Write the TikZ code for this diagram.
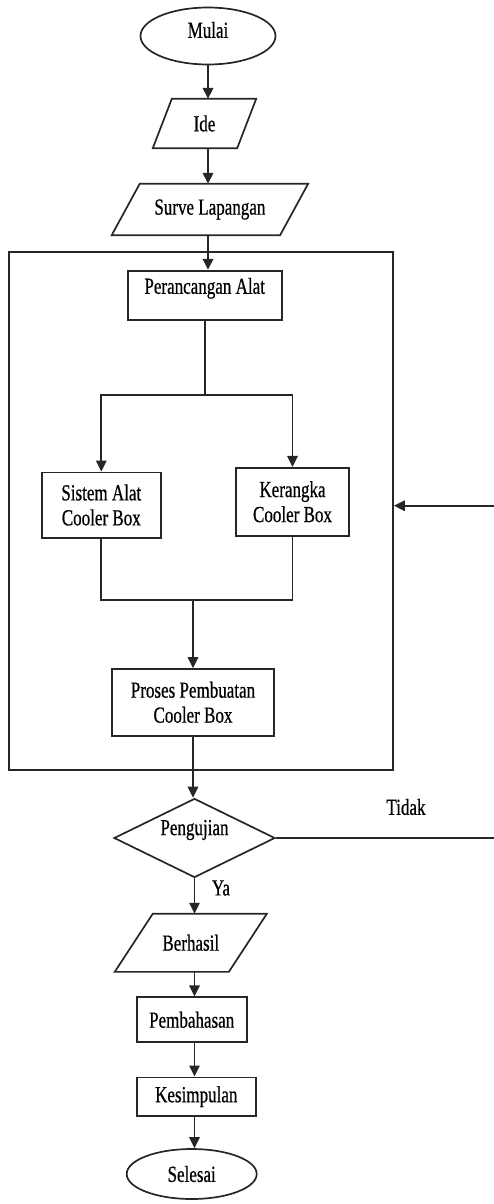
\documentclass[tikz,border=0pt]{standalone}
\usepackage{fontspec}
\setmainfont{Liberation Serif}[FakeStretch=0.74,FakeBold=0.6]
\usetikzlibrary{shapes.geometric,arrows.meta}
\begin{document}
\begin{tikzpicture}[x=1pt,y=-1pt,
  every node/.style={font=\fontsize{23}{25}\selectfont, inner sep=0pt, text=black},
  shp/.style={draw=black!85, line width=1.7pt},
  boxnode/.style={shp, rectangle, align=center},
  term/.style={shp, ellipse},
  iobox/.style={rectangle, align=center},
  arr/.style={draw=black!85, line width=1.7pt, -{Triangle[length=11pt,width=10.5pt]}},
  ln/.style={draw=black!85, line width=1.7pt}]
\useasboundingbox (0,0) rectangle (494,1204);

% top chain
\node[term, minimum width=135pt, minimum height=57pt, label={[yshift=6pt]center:Mulai}] (mulai) at (208,36) {};
\node[iobox, minimum width=103pt, minimum height=49pt] (ide) at (204.5,123.5) {Ide};
\node[iobox, minimum width=196pt, minimum height=51pt] (surve) at (209.9,209.5) {Surve Lapangan};
\draw[shp] ([xshift=19pt]ide.north west) -- (ide.north east) -- ([xshift=-19pt]ide.south east) -- (ide.south west) -- cycle;
\draw[shp] ([xshift=28pt]surve.north west) -- (surve.north east) -- ([xshift=-28pt]surve.south east) -- (surve.south west) -- cycle;

% frame
\node[shp, rectangle, minimum width=384pt, minimum height=518.3pt] (frame) at (201,510.8) {};

\node[boxnode, minimum width=154pt, minimum height=49.3pt, label={[yshift=7pt]center:Perancangan Alat}] (peranc) at (204.7,295.3) {};
\node[boxnode, minimum width=119.3pt, minimum height=65.3pt] (sistem) at (101.3,505) {Sistem Alat\\Cooler Box};
\node[boxnode, minimum width=113.6pt, minimum height=68pt] (kerangka) at (292.5,501.7) {Kerangka\\Cooler Box};
\node[boxnode, minimum width=161.7pt, minimum height=66.7pt] (proses) at (193,702.3) {Proses Pembuatan\\Cooler Box};

% decision
\node[shp, diamond, minimum width=161pt, minimum height=79pt, label={[yshift=8pt]center:Pengujian}] (uji) at (194.5,838) {};
\node (tidak) at (406,807) {Tidak};
\node (ya) at (221,888) {Ya};

% bottom chain
\node[iobox, minimum width=151.7pt, minimum height=57.7pt] (berhasil) at (190.8,942.8) {Berhasil};
\draw[shp] ([xshift=38pt]berhasil.north west) -- (berhasil.north east) -- ([xshift=-38pt]berhasil.south east) -- (berhasil.south west) -- cycle;
\node[boxnode, minimum width=110pt, minimum height=45pt] (pemb) at (191.7,1019.8) {Pembahasan};
\node[boxnode, minimum width=119.3pt, minimum height=38.7pt] (kesimp) at (196.3,1096.7) {Kesimpulan};
\node[term, minimum width=130pt, minimum height=50pt] (selesai) at (191.7,1174) {Selesai};

% connectors
\draw[arr] (mulai.south) -- (mulai.south |- ide.north);
\draw[arr] (mulai.south |- ide.south) -- (mulai.south |- surve.north);
\draw[arr] (mulai.south |- surve.south) -- (mulai.south |- peranc.north);

\path (peranc.south) ++(0,74) coordinate (split);
\draw[ln] (peranc.south) -- (split);
\draw[arr] (split) -| (sistem.north);
\draw[arr] (split) -| (kerangka.north);

\path (proses.north) ++(0,-68) coordinate (join);
\draw[ln] (sistem.south) |- (join);
\draw[ln] (kerangka.south) |- (join);
\draw[arr] (join) -- (proses.north);

\draw[arr] (proses.south) -- (proses.south |- uji.north);
\draw[arr] (uji.south) -- (uji.south |- berhasil.north);
\draw[arr] (uji.south |- berhasil.south) -- (uji.south |- pemb.north);
\draw[arr] (uji.south |- pemb.south) -- (uji.south |- kesimp.north);
\draw[arr] (uji.south |- kesimp.south) -- (uji.south |- selesai.north);

\coordinate (fbA) at (498,838);
\coordinate (fbB) at (498,505.7);
\draw[arr] (uji.east) -- (fbA) -- (fbB) -- (frame.east |- fbB);
\end{tikzpicture}
\end{document}
